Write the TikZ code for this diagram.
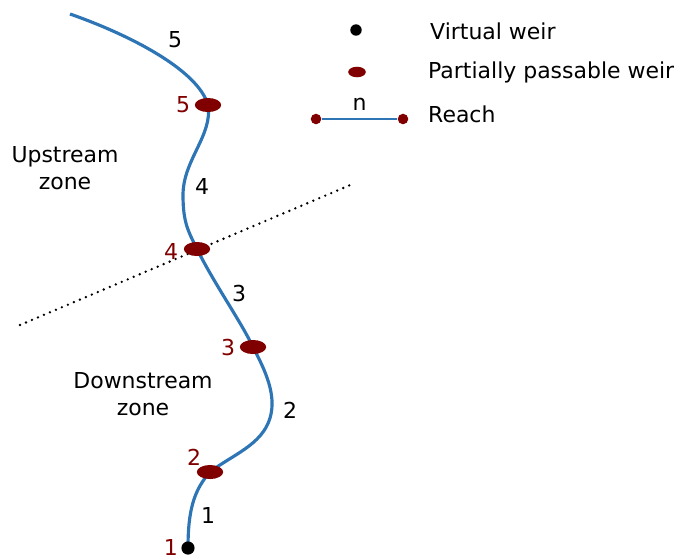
\documentclass[tikz,border=0pt]{standalone}
\usepackage{fontspec}
\setmainfont{DejaVu Sans}
\usetikzlibrary{backgrounds,shapes.geometric}

\definecolor{riverblue}{RGB}{46,117,182}
\definecolor{weirred}{RGB}{128,0,0}

\begin{document}
\begin{tikzpicture}[
  x=0.02cm, y=-0.02cm,
  font=\fontsize{12.5}{15.5}\selectfont,
  river/.style   = {riverblue, line width=1.8pt},
  weir/.style    = {ellipse, fill=weirred, inner sep=0pt,
                    minimum width=15pt, minimum height=8pt},
  virtual/.style = {circle, fill=black, inner sep=0pt, minimum size=7.5pt},
  tip/.style     = {circle, fill=weirred, inner sep=0pt, minimum size=6pt},
  wlbl/.style    = {weirred, inner sep=1pt},
  rlbl/.style    = {text=black},
  zone/.style    = {align=center},
  legend/.style  = {anchor=west},
  border/.style  = {line width=1.5pt, line cap=round, dash pattern=on 0pt off 3.7pt},
]
  \useasboundingbox (0,0) rectangle (678,559);

  % weirs along the river
  \node[virtual] (w1) at (188,548) {};
  \node[weir] (w2) at (210,472) {};
  \node[weir] (w3) at (253,347) {};
  \node[weir] (w4) at (197,249) {};
  \node[weir] (w5) at (208,105) {};
  \coordinate (src) at (70,14);

  \node[wlbl, anchor=east] at (180,547) {1};
  \node[wlbl] at (194,457) {2};
  \node[wlbl] at (228,347) {3};
  \node[wlbl] at (171,251) {4};
  \node[wlbl] at (183,105) {5};

  \begin{scope}[on background layer]
    \draw[river] (src) .. controls (130,35) and (198,70) .. (w5.center)
      .. controls (213,135) and (183,160) .. (183,195)
      .. controls (183,222) and (188,231) .. (w4.center)
      .. controls (215,285) and (240,320) .. (w3.center)
      .. controls (265,370) and (277,395) .. (270,418)
      .. controls (262,445) and (232,455) .. (w2.center)
      .. controls (194,490) and (188,510) .. (w1.center);
    \draw[border] (20,325) -- (355,183);
  \end{scope}

  % reach numbers
  \node[rlbl] (r1) at (208,515) {1};
  \node[rlbl] (r2) at (290,410) {2};
  \node[rlbl] (r3) at (239,293) {3};
  \node[rlbl] (r4) at (202,186) {4};
  \node[rlbl] (r5) at (175,40) {5};

  \node[zone] (up) at (65,168) {Upstream\\zone};
  \node[zone] (down) at (143,394) {Downstream\\zone};

  % legend
  \node[virtual, minimum size=6.5pt] (lv) at (356,30) {};
  \node[legend] at (424,31) {Virtual weir};
  \node[weir, minimum width=10pt, minimum height=6pt] (lw) at (357,72) {};
  \node[legend] at (422,72) {Partially passable weir};
  \node[tip] (la) at (316,119) {};
  \node[tip] (lb) at (403,119) {};
  \draw[riverblue, line width=1.1pt] (la) -- node[above, rlbl, yshift=1pt] {n} (lb);
  \node[legend] at (422,114) {Reach};
\end{tikzpicture}
\end{document}
